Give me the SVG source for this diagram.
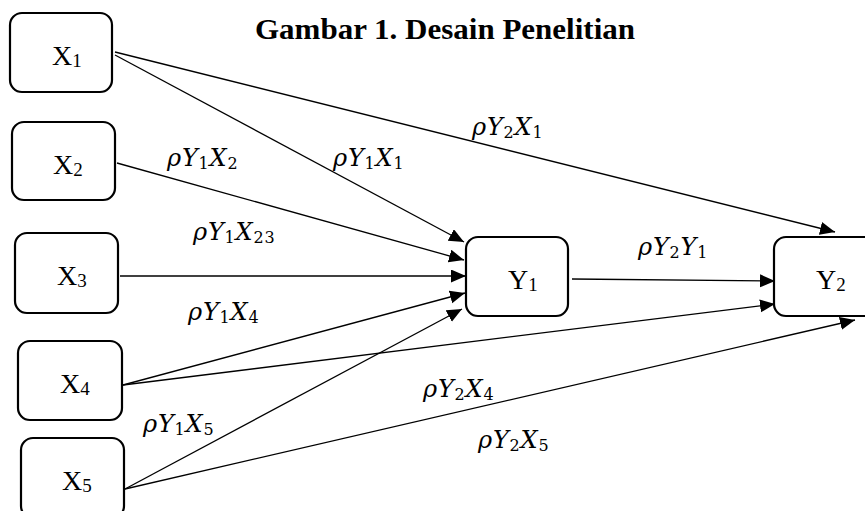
<svg xmlns="http://www.w3.org/2000/svg" width="865" height="511" viewBox="0 0 865 511">
<defs>
<marker id="ah" markerUnits="userSpaceOnUse" markerWidth="16" markerHeight="14" refX="15" refY="6.5" orient="auto">
<path d="M0,0 L15,6.5 L0,13 z" fill="#000"/>
</marker>
<style>
.box{fill:#fff;stroke:#000;stroke-width:2.2}
.edge{stroke:#000;stroke-width:1.3;fill:none;marker-end:url(#ah)}
.nl{font-family:"Liberation Serif",serif;font-size:28px;fill:#000}
.ns{font-size:19px}
.ml{font-family:"DejaVu Serif",serif;font-style:italic;font-size:24px;letter-spacing:0.8px;fill:#000}
.ms{font-style:normal;font-size:16px}
.title{font-family:"Liberation Serif",serif;font-weight:bold;font-size:30px;fill:#000}
</style>
</defs>
<rect width="865" height="511" fill="#fff"/>
<text class="title" x="255" y="39" textLength="380" lengthAdjust="spacingAndGlyphs">Gambar 1. Desain Penelitian</text>
<g id="connectors">
<path class="edge" d="M115,52 L835,232"/>
<path class="edge" d="M115,55 L464,242"/>
<path class="edge" d="M117,163 L464,260"/>
<path class="edge" d="M120,276 L466,276"/>
<path class="edge" d="M123,385 L465,293"/>
<path class="edge" d="M123,385 L775,304"/>
<path class="edge" d="M125,489 L462,309"/>
<path class="edge" d="M125,489 L855,320"/>
<path class="edge" d="M572,279 L775,281"/>
</g>
<g id="labels">
<text class="ml" x="472" y="135">ρY<tspan class="ms" dy="3">2</tspan><tspan dy="-3">X</tspan><tspan class="ms" dy="3">1</tspan></text>
<text class="ml" x="333" y="166">ρY<tspan class="ms" dy="3">1</tspan><tspan dy="-3">X</tspan><tspan class="ms" dy="3">1</tspan></text>
<text class="ml" x="167" y="166">ρY<tspan class="ms" dy="3">1</tspan><tspan dy="-3">X</tspan><tspan class="ms" dy="3">2</tspan></text>
<text class="ml" x="193" y="240">ρY<tspan class="ms" dy="3">1</tspan><tspan dy="-3">X</tspan><tspan class="ms" dy="3">23</tspan></text>
<text class="ml" x="188" y="320">ρY<tspan class="ms" dy="3">1</tspan><tspan dy="-3">X</tspan><tspan class="ms" dy="3">4</tspan></text>
<text class="ml" x="143" y="432">ρY<tspan class="ms" dy="3">1</tspan><tspan dy="-3">X</tspan><tspan class="ms" dy="3">5</tspan></text>
<text class="ml" x="638" y="255">ρY<tspan class="ms" dy="3">2</tspan><tspan dy="-3">Y</tspan><tspan class="ms" dy="3">1</tspan></text>
<text class="ml" x="423" y="397">ρY<tspan class="ms" dy="3">2</tspan><tspan dy="-3">X</tspan><tspan class="ms" dy="3">4</tspan></text>
<text class="ml" x="478" y="448">ρY<tspan class="ms" dy="3">2</tspan><tspan dy="-3">X</tspan><tspan class="ms" dy="3">5</tspan></text>
</g>
<g id="X1"><rect class="box" x="10" y="13" width="102" height="79" rx="12"/><text class="nl" x="52" y="65">X<tspan class="ns" dy="2">1</tspan></text></g>
<g id="X2"><rect class="box" x="12" y="122" width="103" height="78" rx="12"/><text class="nl" x="53" y="174">X<tspan class="ns" dy="2">2</tspan></text></g>
<g id="X3"><rect class="box" x="15" y="233" width="103" height="80" rx="12"/><text class="nl" x="57" y="285">X<tspan class="ns" dy="2">3</tspan></text></g>
<g id="X4"><rect class="box" x="18" y="341" width="104" height="79" rx="12"/><text class="nl" x="60" y="393">X<tspan class="ns" dy="2">4</tspan></text></g>
<g id="X5"><rect class="box" x="21" y="438" width="103" height="80" rx="12"/><text class="nl" x="62" y="490">X<tspan class="ns" dy="2">5</tspan></text></g>
<g id="Y1"><rect class="box" x="466" y="237" width="102" height="79" rx="12"/><text class="nl" x="508" y="289">Y<tspan class="ns" dy="2">1</tspan></text></g>
<g id="Y2"><rect class="box" x="774" y="237" width="120" height="79" rx="12"/><text class="nl" x="816" y="289">Y<tspan class="ns" dy="2">2</tspan></text></g>
</svg>
